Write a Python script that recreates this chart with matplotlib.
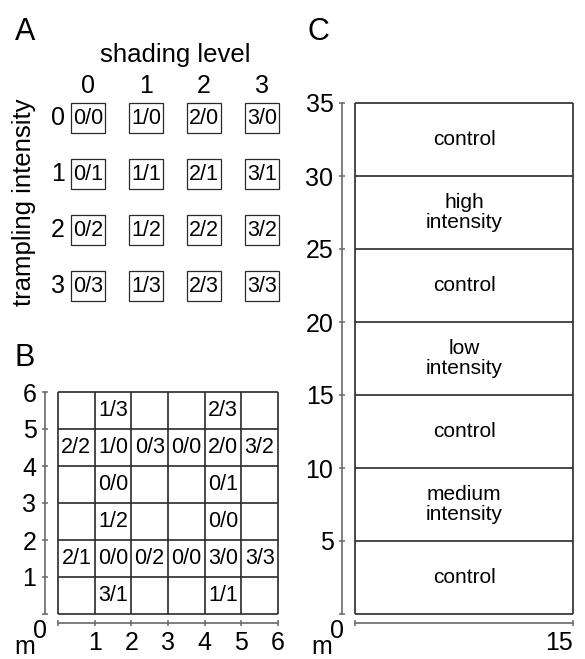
import matplotlib
matplotlib.use("Agg")
import matplotlib.pyplot as plt
from matplotlib.patches import Rectangle

plt.rcParams["font.family"] = ["Liberation Sans", "DejaVu Sans"]

W, H = 585, 659

# ---- data -------------------------------------------------------------
shade_levels = [0, 1, 2, 3]
trample_levels = [0, 1, 2, 3]

# panel B: field layout, (column, row, label) with row 0 at the bottom
plot_cols = [1, 4,
             0, 1, 2, 3, 4, 5,
             1, 4,
             1, 4,
             0, 1, 2, 3, 4, 5,
             1, 4]
plot_rows = [5, 5,
             4, 4, 4, 4, 4, 4,
             3, 3,
             2, 2,
             1, 1, 1, 1, 1, 1,
             0, 0]
plot_labels = ["1/3", "2/3",
               "2/2", "1/0", "0/3", "0/0", "2/0", "3/2",
               "0/0", "0/1",
               "1/2", "0/0",
               "2/1", "0/0", "0/2", "0/0", "3/0", "3/3",
               "3/1", "1/1"]

# panel C: transect strips (start, end, label)
strip_start = [0, 5, 10, 15, 20, 25, 30]
strip_end = [5, 10, 15, 20, 25, 30, 35]
strip_labels = ["control", "medium\nintensity", "control", "low\nintensity",
                "control", "high\nintensity", "control"]

BOX = "#2a2a2a"
AXC = "#6a6a6a"
TICK_FS = 18
CELL_FS = 15.5


def px_axes(fig, x0, y0, x1, y1):
    return fig.add_axes([x0 / W, 1 - y1 / H, (x1 - x0) / W, (y1 - y0) / H])


fig = plt.figure(figsize=(W / 100, H / 100), dpi=100)

# ---- A: design matrix -------------------------------------------------
ax = px_axes(fig, 59, 90, 291, 314)
ax.set_xlim(-0.5, 3.5)
ax.set_ylim(3.5, -0.5)
ax.axis("off")
bw, bh = 0.57, 0.55
for t in trample_levels:
    for s in shade_levels:
        ax.add_patch(Rectangle((s - bw / 2, t - bh / 2), bw, bh, fill=False,
                               ec=BOX, lw=0.9))
        ax.text(s, t, f"{s}/{t}", ha="center", va="center", fontsize=CELL_FS)
for s in shade_levels:
    ax.text(s, -0.57, str(s), ha="center", va="center", fontsize=TICK_FS)
for t in trample_levels:
    ax.text(-0.52, t, str(t), ha="center", va="center", fontsize=TICK_FS)
ax.text(1.5, -1.12, "shading level", ha="center", va="center", fontsize=18.5)
ax.text(-1.1, 1.5, "trampling intensity", ha="center", va="center",
        rotation=90, fontsize=18.5)

fig.text(25 / W, 1 - 32 / H, "A", ha="center", va="center", fontsize=22)
fig.text(25 / W, 1 - 358 / H, "B", ha="center", va="center", fontsize=22)
fig.text(318 / W, 1 - 32 / H, "C", ha="center", va="center", fontsize=22)


def style_axes(ax):
    for side in ("top", "right"):
        ax.spines[side].set_visible(False)
    ax.spines["left"].set_position(("outward", 9.5))
    ax.spines["bottom"].set_position(("outward", 6.5))
    for side in ("left", "bottom"):
        ax.spines[side].set_color(AXC)
        ax.spines[side].set_linewidth(1.2)
    ax.tick_params(direction="inout", length=5, width=1.1, color=AXC,
                   labelsize=TICK_FS, pad=3.5)
    ax.annotate("0", xy=(0, 0), xytext=(-13, -12), textcoords="offset points",
                ha="center", va="center", fontsize=TICK_FS,
                annotation_clip=False)
    ax.annotate("m", xy=(0, 0), xytext=(-24, -24), textcoords="offset points",
                ha="center", va="center", fontsize=TICK_FS,
                annotation_clip=False)


# ---- B: field layout --------------------------------------------------
ax = px_axes(fig, 58, 392, 278, 614)
ax.set_xlim(0, 6)
ax.set_ylim(0, 6)
style_axes(ax)
ax.set_xticks(range(7))
ax.set_xticklabels([""] + [str(i) for i in range(1, 7)])
ax.set_yticks(range(7))
ax.set_yticklabels([""] + [str(i) for i in range(1, 7)])
ax.hlines(range(7), 0, 6, color=BOX, lw=1.2, clip_on=False)
ax.vlines(range(7), 0, 6, color=BOX, lw=1.2, clip_on=False)
for c, r, lab in zip(plot_cols, plot_rows, plot_labels):
    ax.text(c + 0.5, r + 0.5, lab, ha="center", va="center", fontsize=CELL_FS)

# ---- C: transect -------------------------------------------------------
ax = px_axes(fig, 355, 103, 573, 614)
ax.set_xlim(0, 15)
ax.set_ylim(0, 35)
style_axes(ax)
ax.set_xticks([0, 15])
ax.set_xticklabels(["", "15"])
ax.get_xticklabels()[1].set_horizontalalignment("right")
ax.set_yticks(range(0, 36, 5))
ax.set_yticklabels([""] + [str(v) for v in range(5, 36, 5)])
ax.hlines(strip_start + [strip_end[-1]], 0, 15, color=BOX, lw=1.2,
          clip_on=False)
ax.vlines([0, 15], 0, 35, color=BOX, lw=1.2, clip_on=False)
for y0, y1, lab in zip(strip_start, strip_end, strip_labels):
    ax.text(7.5, (y0 + y1) / 2, lab, ha="center", va="center",
            fontsize=15, linespacing=1.05)

fig.savefig("out.png", dpi=100)
